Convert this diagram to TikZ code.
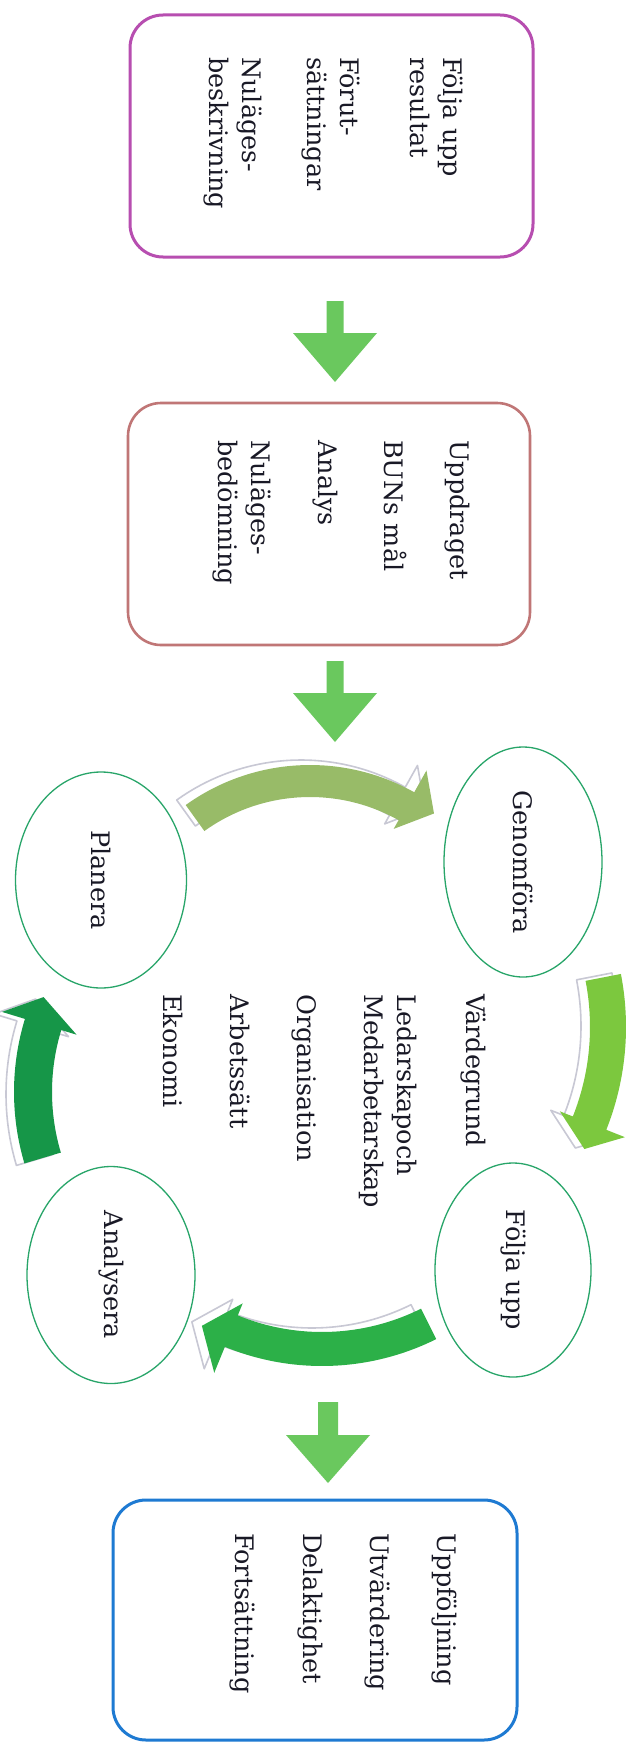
\documentclass[tikz,border=0pt]{standalone}
\usepackage{fontspec}
\setmainfont{DejaVu Serif}
\usetikzlibrary{shapes.geometric}
\definecolor{boxA}{RGB}{183,78,176}
\definecolor{boxB}{RGB}{192,118,118}
\definecolor{boxC}{RGB}{30,122,210}
\definecolor{ellc}{RGB}{40,165,105}
\definecolor{blockgreen}{RGB}{106,200,94}
\definecolor{arrTop}{RGB}{152,187,104}
\definecolor{arrRight}{RGB}{124,200,62}
\definecolor{arrBottom}{RGB}{44,176,72}
\definecolor{arrLeft}{RGB}{22,150,72}
\definecolor{shadowgray}{RGB}{200,200,212}
\definecolor{txt}{RGB}{25,25,38}
\tikzset{
  roundbox/.style={draw, line width=3pt, rounded corners=33pt, inner sep=0pt},
  lbl/.style={rotate=-90, anchor=base west, inner sep=0pt, font=\fontsize{25.5}{30}\selectfont, text=txt},
  cyc/.style={ellipse, draw=ellc, line width=1.3pt, rotate=-90, inner sep=0pt, font=\fontsize{25.5}{30}\selectfont, text=txt},
  shadowline/.style={draw=shadowgray, line width=1.6pt, line join=round},
  blockarrow/.style={fill=blockgreen}
}
% #1 colour, #2 R, #3 half width, #4 tail angle, #5 head base angle, #6 tip angle, #7 tip radius, #8 outer barb, #9 inner barb
\newcommand{\cyclearrow}[9]{%
  \pgfmathsetmacro\cyRo{#2+#3}%
  \pgfmathsetmacro\cyRi{#2-#3}%
  \pgfmathsetmacro\cyRbo{#2+#3+#8}%
  \pgfmathsetmacro\cyRbi{#2-#3-#9}%
  \begin{scope}[shift={(\cyShX,\cyShY)}]
    \draw[shadowline] (#4:\cyRo) arc[start angle=#4, end angle=#5, radius=\cyRo] -- (#5:\cyRbo) -- (#6:#7) -- (#5:\cyRbi) -- (#5:\cyRi) arc[start angle=#5, end angle=#4, radius=\cyRi] -- cycle;
  \end{scope}
  \fill[#1] (#4:\cyRo) arc[start angle=#4, end angle=#5, radius=\cyRo] -- (#5:\cyRbo) -- (#6:#7) -- (#5:\cyRbi) -- (#5:\cyRi) arc[start angle=#5, end angle=#4, radius=\cyRi] -- cycle;
}
\begin{document}
\begin{tikzpicture}[x=1pt,y=1pt]
\fill[white] (0,0) rectangle (644,-1750);
\useasboundingbox (0,0) rectangle (644,-1750);

% boxes
\node[roundbox, draw=boxA, minimum width=403pt, minimum height=242pt] (box1) at (331.5,-136) {};
\node[roundbox, draw=boxB, line width=2.6pt, minimum width=402pt, minimum height=242pt] (box2) at (329,-524) {};
\node[roundbox, draw=boxC, minimum width=404pt, minimum height=240pt] (box3) at (315,-1620) {};

% block arrows
\fill[blockarrow] (326.5,-301) -- (343.5,-301) -- (343.5,-333) -- (377,-333) -- (335,-382) -- (293,-333) -- (326.5,-333) -- cycle;
\fill[blockarrow] (326.5,-661) -- (343.5,-661) -- (343.5,-693) -- (377,-693) -- (335,-742) -- (293,-693) -- (326.5,-693) -- cycle;
\fill[blockarrow] (318,-1402) -- (338,-1402) -- (338,-1435) -- (370,-1435) -- (328,-1483) -- (286,-1435) -- (318,-1435) -- cycle;

% cycle arrows
\begin{scope}[shift={(310,-978)}]
  \def\cyShX{-9}\def\cyShY{5}
  \cyclearrow{arrTop}{197}{16}{125.7}{60.7}{53}{206}{25}{10}
\end{scope}
\begin{scope}[shift={(348,-1027)}]
  \def\cyShX{-9}\def\cyShY{1}
  \cyclearrow{arrRight}{260}{18}{11}{-21.7}{-27.3}{266}{20}{14}
\end{scope}
\begin{scope}[shift={(322,-1110)}]
  \def\cyShX{-10}\def\cyShY{4}
  \cyclearrow{arrBottom}{239}{17}{-63.5}{-112.3}{-119.1}{247}{28}{13}
\end{scope}
\begin{scope}[shift={(264,-1092)}]
  \def\cyShX{-8}\def\cyShY{-2}
  \cyclearrow{arrLeft}{231}{19}{196.6}{163}{156.7}{240}{24}{16}
\end{scope}

% ellipses
\node[cyc, minimum width=216pt, minimum height=171pt] (planera) at (101,-880) {Planera};
\node[cyc, minimum width=230pt, minimum height=158pt] (genomfora) at (523,-862) {Genomföra};
\node[cyc, minimum width=214pt, minimum height=156pt] (foljaupp) at (513,-1270) {Följa upp};
\node[cyc, minimum width=217pt, minimum height=168pt] (analysera) at (111,-1275) {Analysera};

% box 1 text
\node[lbl] (t1a) at (443,-57) {Följa upp};
\node[lbl] (t1b) at (410,-57) {resultat};
\node[lbl] (t1c) at (340,-57) {Förut-};
\node[lbl] (t1d) at (307,-57) {sättningar};
\node[lbl] (t1e) at (242,-57) {Nuläges-};
\node[lbl] (t1f) at (209,-57) {beskrivning};

% box 2 text
\node[lbl] (t2a) at (450,-440) {Uppdraget};
\node[lbl] (t2b) at (384,-440) {BUNs mål};
\node[lbl] (t2c) at (318,-440) {Analys};
\node[lbl] (t2d) at (251,-440) {Nuläges-};
\node[lbl] (t2e) at (218,-440) {bedömning};

% centre text
\node[lbl] (tca) at (466,-994) {Värdegrund};
\node[lbl] (tcb) at (397,-994) {Ledarskapoch};
\node[lbl] (tcc) at (364,-994) {Medarbetarskap};
\node[lbl] (tcd) at (297,-994) {Organisation};
\node[lbl] (tce) at (230,-994) {Arbetssätt};
\node[lbl] (tcf) at (163,-994) {Ekonomi};

% box 3 text
\node[lbl] (t3a) at (437,-1533) {Uppföljning};
\node[lbl] (t3b) at (370,-1533) {Utvärdering};
\node[lbl] (t3c) at (303,-1533) {Delaktighet};
\node[lbl] (t3d) at (235,-1533) {Fortsättning};
\end{tikzpicture}
\end{document}
